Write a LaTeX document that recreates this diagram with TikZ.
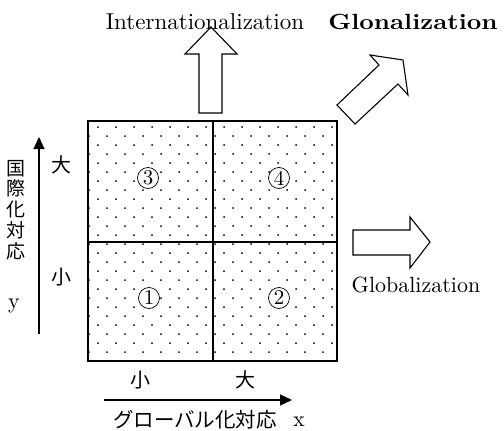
\documentclass[tikz,border=0pt]{standalone}
\usepackage{fontspec}
\setmainfont{lmroman10-regular}[Extension=.otf, BoldFont=lmroman10-bold]
\newfontfamily\jp{Noto Sans CJK JP}
\usetikzlibrary{arrows.meta}
\begin{document}
\begin{tikzpicture}[x=1pt,y=-1pt,
  lat/.style={font=\fontsize{22}{24}\selectfont, inner sep=0, anchor=base},
  jpt/.style={font=\jp\fontsize{20}{21}\selectfont, inner sep=0},
  blockarrow/.style={draw, line width=1.1pt, line join=miter, fill=white},
  axisline/.style={line width=1.1pt, -{Triangle[length=12pt,width=11pt]}},
  num/.style={circle, draw, line width=0.7pt, fill=white, inner sep=0, minimum size=21pt, font=\fontsize{21}{21}\selectfont},
  gridline/.style={line width=1.7pt},
]
\useasboundingbox (0,0) rectangle (504,431);

% dotted fill
\begin{scope}
\clip (88,121) rectangle (337,361);
\foreach \j in {0,...,25} {
  \pgfmathsetmacro\yy{127+9*\j}
  \pgfmathsetmacro\xs{mod(\j,2)==0 ? 98 : 89}
  \foreach \i in {0,...,13} {
    \fill (\xs+18*\i,\yy) circle (1pt);
  }
}
\end{scope}

% grid
\coordinate (gtl) at (88,121);
\coordinate (gbr) at (337,361);
\coordinate (mtop) at (213,121);
\coordinate (mbot) at (213,361);
\coordinate (mleft) at (88,242);
\coordinate (mright) at (337,242);
\draw[gridline] (gtl) rectangle (gbr);
\draw[gridline] (mtop) -- (mbot);
\draw[gridline] (mleft) -- (mright);

% quadrant numbers
\node[num] (q3) at (148,178) {3};
\node[num] (q4) at (279,178) {4};
\node[num] (q1) at (149,298) {1};
\node[num] (q2) at (279,298) {2};

% block arrows
\draw[blockarrow] (199,113) -- (199,54) -- (185,54) -- (211,27) -- (237,54) -- (222,54) -- (222,113) -- cycle;
\draw[blockarrow] (337,105) -- (355,124) -- (398,84) -- (408,95) -- (403,60) -- (370,55) -- (379,65) -- cycle;
\draw[blockarrow] (353,230) -- (410,230) -- (410,217) -- (430,242) -- (410,268) -- (410,255) -- (353,255) -- cycle;

% labels
\node[lat, font=\fontsize{23}{24}\selectfont] (intl) at (205,30) {Internationalization};
\node[lat] (glon) at (413,30) {\scalebox{1.15}[1]{\bfseries Glonalization}};
\node[lat] (glob) at (416,292) {Globalization};

% axes
\coordinate (ybot) at (39,334);
\coordinate (ytop) at (39,137);
\coordinate (xleft) at (104,400);
\coordinate (xright) at (292,400);
\draw[axisline] (ybot) -- (ytop);
\draw[axisline] (xleft) -- (xright);

\node[jpt, align=center, font=\jp\fontsize{19}{20.8}\selectfont] (ylab) at (16,210) {国\\際\\化\\対\\応};
\node[lat] (yvar) at (14,308) {y};
\node[jpt] (ybig) at (62,165) {大};
\node[jpt] (ysmall) at (62,277) {小};

\node[jpt] (xsmall) at (140,380) {小};
\node[jpt] (xbig) at (245,380) {大};
\node[jpt, font=\jp\fontsize{20.5}{22}\selectfont] (xlab) at (195,420) {グローバル化対応};
\node[lat] (xvar) at (299,426) {x};
\end{tikzpicture}
\end{document}
